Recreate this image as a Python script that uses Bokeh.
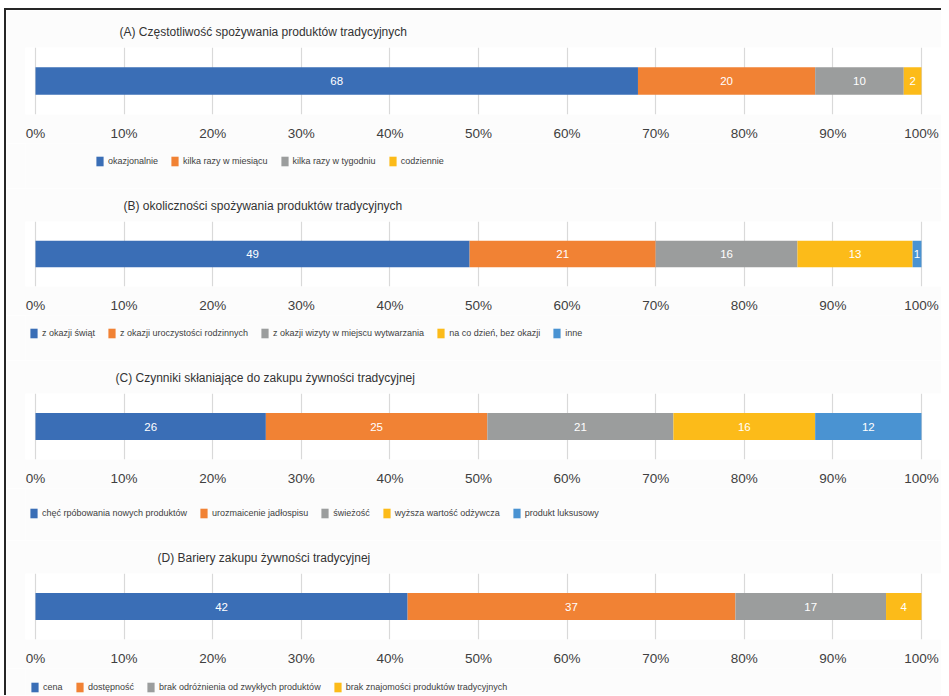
from bokeh.plotting import figure
from bokeh.models import (ColumnDataSource, Legend, LegendItem, FixedTicker,
                          Range1d, FactorRange, Title)
from bokeh.layouts import column
from bokeh.embed import file_html
from bokeh.resources import INLINE
from bokeh.core.properties import value

# ---------------- data ----------------
title_a = "(A)  Częstotliwość spożywania produktów  tradycyjnych"
labels_a = ["okazjonalnie", "kilka razy w miesiącu", "kilka razy w tygodniu", "codziennie"]
values_a = [68, 20, 10, 2]

title_b = "(B) okoliczności spożywania produktów  tradycyjnych"
labels_b = ["z okazji świąt", "z okazji uroczystości rodzinnych",
            "z okazji wizyty w miejscu wytwarzania", "na co dzień, bez okazji", "inne"]
values_b = [49, 21, 16, 13, 1]

title_c = "(C) Czynniki skłaniające do zakupu żywności tradycyjnej"
labels_c = ["chęć rpóbowania nowych produktów", "urozmaicenie jadłospisu", "świeżość",
            "wyższa wartość odżywcza", "produkt luksusowy"]
values_c = [26, 25, 21, 16, 12]

title_d = "(D) Bariery zakupu żywności tradycyjnej"
labels_d = ["cena", "dostępność", "brak odróżnienia od zwykłych produktów",
            "brak znajomości produktów tradycyjnych"]
values_d = [42, 37, 17, 4]

tick_values = [0, 10, 20, 30, 40, 50, 60, 70, 80, 90, 100]
tick_labels = ["0%", "10%", "20%", "30%", "40%", "50%", "60%", "70%", "80%", "90%", "100%"]

colors = ["#3A6EB6", "#F18234", "#9B9D9D", "#FCBB19", "#4A93D2"]

FONT = "Liberation Sans"
TXT = "#404040"
BG = "#FCFCFC"

W = 935
FRAME_LEFT = 19
LH = 12


def make_panel(title, title_off, labels, values, top, frame_h,
               leg_h, leg_center, legend_x):
    n = len(values)
    keys = ["s%d" % i for i in range(n)]
    cat = ["row"]
    data = {"cat": cat}
    for k, v in zip(keys, values):
        data[k] = [v]
    src = ColumnDataSource(data)

    bottom = 25
    p = figure(width=W, height=top + frame_h + bottom, output_backend="svg",
               toolbar_location=None,
               x_range=Range1d(-1.13, 102.26), y_range=FactorRange(*cat),
               min_border_left=FRAME_LEFT, min_border_right=0,
               min_border_top=top, min_border_bottom=bottom)
    p.background_fill_color = "white"
    p.border_fill_color = BG
    p.outline_line_color = None

    p.hbar_stack(keys, y="cat", height=0.41, color=colors[:n], line_color=None,
                 source=src)

    # data labels in the middle of each segment
    cum = 0
    mids = []
    for v in values:
        mids.append(cum + v / 2)
        cum += v
    p.text(x=mids, y=cat * n, text=[str(v) for v in values],
           text_align="center", text_baseline="middle", text_color="white",
           text_font=value(FONT), text_font_size="11.5px")

    p.yaxis.visible = False
    p.ygrid.grid_line_color = None
    p.xgrid.grid_line_color = "#D9D9D9"
    p.xgrid.grid_line_width = 1.2

    ax = p.xaxis[0]
    ax.ticker = FixedTicker(ticks=tick_values)
    ax.major_label_overrides = {t: l for t, l in zip(tick_values, tick_labels)}
    ax.axis_line_color = None
    ax.major_tick_line_color = None
    ax.minor_tick_line_color = None
    ax.major_label_standoff = 5
    ax.major_label_text_font = FONT
    ax.major_label_text_font_size = "13.5px"
    ax.major_label_text_color = TXT

    p.add_layout(Title(text=title, align="left", offset=title_off, standoff=17,
                       text_font=FONT, text_font_size="12px", text_font_style="normal",
                       text_color="#333333"), "above")

    # legend strip below the plot (keys use the same data, hidden renderers)
    lg = figure(width=W, height=leg_h, output_backend="svg", toolbar_location=None,
                x_range=Range1d(0, 100), y_range=FactorRange(*cat),
                x_axis_type=None, y_axis_type=None,
                min_border_left=0, min_border_right=0, min_border_top=0, min_border_bottom=0)
    lg.background_fill_color = BG
    lg.border_fill_color = BG
    lg.outline_line_color = None
    lg.grid.visible = False
    key_rs = lg.hbar_stack(keys, y="cat", height=0.41, color=colors[:n], line_color=None,
                           source=src)
    for r in key_rs:
        r.visible = False
    items = [LegendItem(label=l, renderers=[r]) for l, r in zip(labels, key_rs)]
    leg = Legend(items=items, orientation="horizontal",
                 location=(legend_x, leg_h - leg_center - LH // 2),
                 background_fill_alpha=0, border_line_color=None,
                 padding=0, margin=0, spacing=12, label_standoff=4,
                 glyph_width=9, glyph_height=LH, label_height=LH,
                 label_text_font=FONT, label_text_font_size="9px",
                 label_text_color=TXT,
                 inactive_fill_alpha=0)
    lg.add_layout(leg)
    return [p, lg]


panels = []
panels += make_panel(title_a, 94, labels_a, values_a, 37, 71, 45, 18, 70)
panels += make_panel(title_b, 98, labels_b, values_b, 32, 70, 45, 18, 4)
panels += make_panel(title_c, 90, labels_c, values_c, 32, 71, 52, 25, 4)
panels += make_panel(title_d, 132, labels_d, values_d, 32, 71, 27, 19, 5)

layout = column(*panels, spacing=0,
                styles={"margin-left": "4px", "margin-top": "8px",
                        "border-left": "2px solid #262626", "border-top": "2px solid #262626"})

open("out.html", "w").write(file_html(layout, INLINE))
